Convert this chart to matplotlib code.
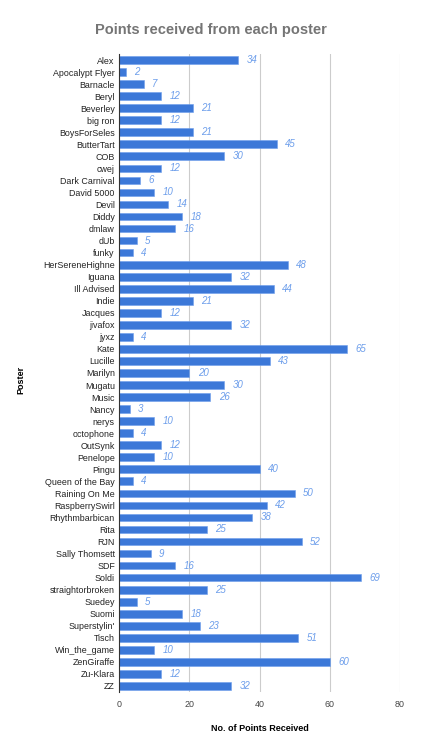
import matplotlib
matplotlib.use("Agg")
import matplotlib.pyplot as plt

plt.rcParams['font.family'] = ['Liberation Sans', 'DejaVu Sans']

posters = ["Alex", "Apocalypt Flyer", "Barnacle", "Beryl", "Beverley", "big ron",
           "BoysForSeles", "ButterTart", "COB", "cwej", "Dark Carnival", "David 5000",
           "Devil", "Diddy", "dmlaw", "dUb", "funky", "HerSereneHighne", "Iguana",
           "Ill Advised", "Indie", "Jacques", "jivafox", "jyxz", "Kate", "Lucille",
           "Marilyn", "Mugatu", "Music", "Nancy", "nerys", "octophone", "OutSynk",
           "Penelope", "Pingu", "Queen of the Bay", "Raining On Me", "RaspberrySwirl",
           "Rhythmbarbican", "Rita", "RJN", "Sally Thomsett", "SDF", "Soldi",
           "straightorbroken", "Suedey", "Suomi", "Superstylin'", "Tisch",
           "Win_the_game", "ZenGiraffe", "Zu-Klara", "ZZ"]
points = [34, 2, 7, 12, 21, 12, 21, 45, 30, 12, 6, 10, 14, 18, 16, 5, 4, 48, 32, 44,
          21, 12, 32, 4, 65, 43, 20, 30, 26, 3, 10, 4, 12, 10, 40, 4, 50, 42, 38, 25,
          52, 9, 16, 69, 25, 5, 18, 23, 51, 10, 60, 12, 32]
x_ticks = [0, 20, 40, 60, 80]

fig = plt.figure(figsize=(4.21, 7.5), dpi=100)
ax = fig.add_axes([119 / 421, 1 - 692 / 750, 281 / 421, 638 / 750])

ypos = list(range(len(posters)))
ax.barh(ypos, points, height=0.64, color="#3c78d8", edgecolor="#6d9eeb", linewidth=0.4, zorder=3)
for y, v in zip(ypos, points):
    ax.annotate(str(v), (v, y), xytext=(6, 0), textcoords="offset points",
                va="center", ha="left", fontsize=7, style="italic", color="#6d9eeb")

ax.set_xlim(0, 80)
ax.set_ylim(len(posters) - 0.5, -0.5)
ax.set_xticks(x_ticks)
ax.set_yticks(ypos)
ax.set_yticklabels(posters)
ax.tick_params(axis="y", length=0, pad=3, labelsize=6.4, labelcolor="#222222")
ax.tick_params(axis="x", length=0, pad=6, labelsize=6.4, labelcolor="#444444")
ax.grid(axis="x", color="#cccccc", linewidth=0.8, zorder=0)
for s in ["top", "right", "bottom"]:
    ax.spines[s].set_visible(False)
ax.spines["left"].set_color("#333333")
ax.spines["left"].set_linewidth(0.8)
ax.spines["left"].set_zorder(4)

ax.set_xlabel("No. of Points Received", fontsize=6.5, fontweight="bold")
ax.xaxis.set_label_coords(0.5, -32 / 638)
ax.set_ylabel("Poster", fontsize=6.5, fontweight="bold")
ax.yaxis.set_label_coords(-94 / 281, (692 - 380) / 638)
fig.text(0.5, 1 - 30 / 750, "Points received from each poster", ha="center", va="center",
         fontsize=10.5, fontweight="bold", color="#757575")

fig.savefig("out.png", dpi=100)
